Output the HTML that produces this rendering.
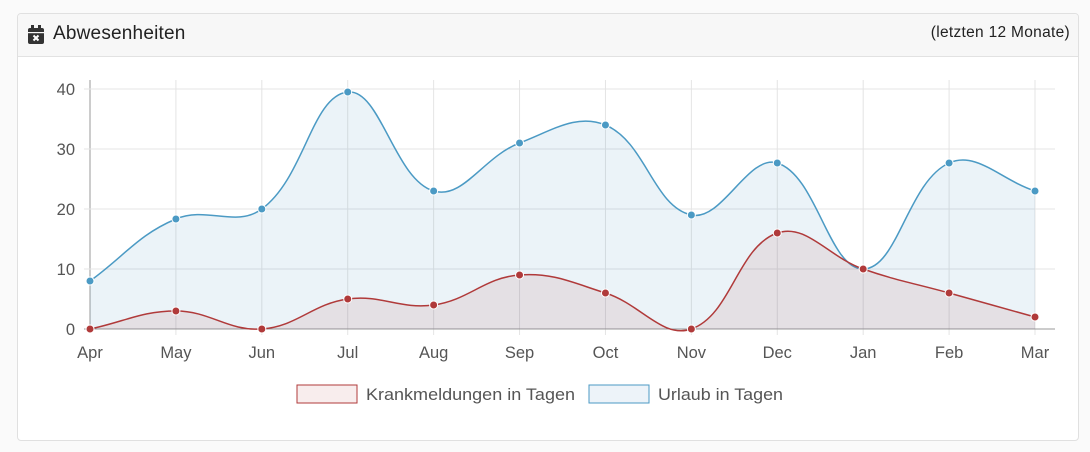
<!DOCTYPE html>
<html><head><meta charset="utf-8"><style>
body{margin:0;background:#fafafa;width:1090px;height:452px;overflow:hidden;font-family:"Liberation Sans",sans-serif}
.card{position:absolute;left:17px;top:13px;width:1060px;height:426px;border:1px solid #e0e0e0;border-radius:4px;background:#fff}
.hd{height:42px;background:#f7f7f7;border-bottom:1px solid #e2e2e2;position:relative;border-radius:4px 4px 0 0}
.t{position:absolute;left:35px;top:9px;font-size:19px;color:#222;letter-spacing:0.2px}
.r{position:absolute;right:8px;top:10px;font-size:15.5px;color:#222;letter-spacing:0.3px}
svg{position:absolute;left:0;top:0}
</style></head><body>
<div class="card"><div class="hd">
<svg width="20" height="20" style="left:9px;top:11px" viewBox="0 0 20 20"><rect x="1" y="3" width="16" height="16" rx="2" fill="#333"/><rect x="4" y="0" width="3" height="5" fill="#333"/><rect x="11" y="0" width="3" height="5" fill="#333"/><rect x="1" y="7" width="16" height="1.2" fill="#f7f7f7"/><path d="M6.5 10.5l5 5M11.5 10.5l-5 5" stroke="#fff" stroke-width="2"/></svg>
<div class="t">Abwesenheiten</div><div class="r">(letzten 12 Monate)</div></div></div>
<svg id="c" width="1090" height="452" font-family="Liberation Sans, sans-serif"></svg>
<script>
var s=document.getElementById('c'),h='';
var X0=90,dx=(1035-90)/11,Y0=329,k=6;
var L=['Apr','May','Jun','Jul','Aug','Sep','Oct','Nov','Dec','Jan','Feb','Mar'];
for(var i=0;i<12;i++){var x=X0+i*dx;h+='<line x1="'+x+'" y1="80" x2="'+x+'" y2="'+(i==0?329:335)+'" stroke="'+(i==0?'#999':'#e4e4e4')+'"/>';
h+='<text x="'+x+'" y="358" text-anchor="middle" font-size="16.5" fill="#555">'+L[i]+'</text>';}
for(var v=0;v<=40;v+=10){var y=Y0-v*k;h+='<line x1="84" y1="'+y+'" x2="1055" y2="'+y+'" stroke="'+(v==0?'#999':'#e4e4e4')+'"/><text x="75" y="'+(y+6)+'" text-anchor="end" font-size="16.5" fill="#555">'+v+'</text>';}
function P(d){return d.map(function(y,i){return [X0+i*dx,y]});}
function path(p){var t=0.4,c=[];for(var i=0;i<p.length;i++){var a=p[Math.max(i-1,0)],b=p[i],n=p[Math.min(i+1,p.length-1)];
var d01=Math.hypot(b[0]-a[0],b[1]-a[1]),d12=Math.hypot(n[0]-b[0],n[1]-b[1]);var fa=d01/(d01+d12)||0,fb=d12/(d01+d12)||0;fa*=t;fb*=t;
c.push([[b[0]-fa*(n[0]-a[0]),b[1]-fa*(n[1]-a[1])],[b[0]+fb*(n[0]-a[0]),b[1]+fb*(n[1]-a[1])]]);}
var s='M'+p[0];for(var i=1;i<p.length;i++)s+=' C'+c[i-1][1]+' '+c[i][0]+' '+p[i];return s;}
var U=P([281,219,209,92,191,143,125,215,163,269,163,191]),K=P([329,311,329,299,305,275,293,329,233,269,293,317]);
function ser(p,fill,st){var d=path(p);h+='<path d="'+d+' L1035,329 L90,329Z" fill="'+fill+'"/><path d="'+d+'" fill="none" stroke="'+st+'" stroke-width="1.5"/>';}
ser(U,'rgba(60,141,188,0.1)','#4b9ac4');ser(K,'rgba(170,60,60,0.1)','#b03a3a');
U.forEach(function(q){h+='<circle cx="'+q[0]+'" cy="'+q[1]+'" r="4" fill="#4b9ac4" stroke="#fff"/>'});
K.forEach(function(q){h+='<circle cx="'+q[0]+'" cy="'+q[1]+'" r="4" fill="#b03a3a" stroke="#fff"/>'});
h+='<rect x="297" y="385" width="60" height="18" fill="#f8eded" stroke="#b03a3a"/><text x="366" y="400" font-size="17" fill="#555" textLength="209" lengthAdjust="spacingAndGlyphs">Krankmeldungen in Tagen</text>';
h+='<rect x="589" y="385" width="60" height="18" fill="#edf3f9" stroke="#4b9ac4"/><text x="658" y="400" font-size="17" fill="#555" textLength="125" lengthAdjust="spacingAndGlyphs">Urlaub in Tagen</text>';
s.innerHTML=h;
</script>
</body></html>
